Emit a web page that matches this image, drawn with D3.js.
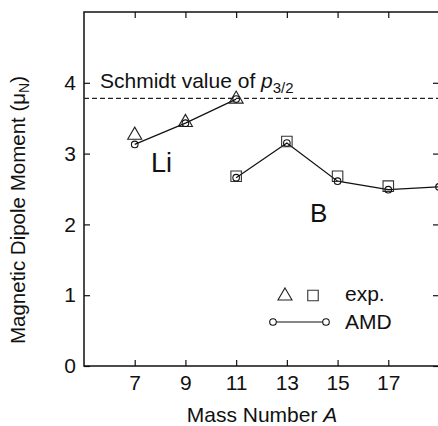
<!DOCTYPE html>
<html>
<head>
    <style>
        body { margin: 0; background: #fff; }
        svg { display: block; font-family: "Liberation Sans", Arial, sans-serif; }
        .axis text { font-size: 21px; fill: #111; }
        .axis line { stroke: #111; stroke-width: 1.2px; }
    </style>
    <script src="https://d3js.org/d3.v7.min.js"></script>
</head>
<body>
    <div id="chart"></div>
    <script>
        // data
        var xTicks = [7, 9, 11, 13, 15, 17];
        var yTicks = [0, 1, 2, 3, 4];
        var schmidt = 3.78;

        var liMass = [7, 9, 11];
        var liExp = [3.26, 3.44, 3.77];
        var liAmd = [3.13, 3.43, 3.77];

        var bMass = [11, 13, 15, 17];
        var bExp = [2.68, 3.17, 2.68, 2.54];
        var bAmdMass = [11, 13, 15, 17, 19];
        var bAmd = [2.66, 3.15, 2.61, 2.49, 2.53];

        var W = 438, H = 426;
        var plotL = 84, plotR = 439, plotT = 12, plotB = 366;

        var svg = d3.select("#chart").append("svg")
            .attr("width", W).attr("height", H);

        var x = d3.scaleLinear().domain([5, 19]).range([plotL, plotR]);
        var y = d3.scaleLinear().domain([0, 5]).range([plotB, plotT]);

        // axes, ticks pointing inward
        svg.append("g").attr("class", "axis")
            .attr("transform", "translate(0," + plotB + ")")
            .call(d3.axisBottom(x).tickValues(xTicks).tickSizeInner(-6).tickSizeOuter(0).tickPadding(9))
            .call(function(g) { g.select(".domain").remove(); });

        svg.append("g").attr("class", "axis")
            .attr("transform", "translate(0," + plotT + ")")
            .call(d3.axisTop(x).tickValues(xTicks).tickSizeInner(-6).tickSizeOuter(0).tickFormat(""))
            .call(function(g) { g.select(".domain").remove(); });

        svg.append("g").attr("class", "axis")
            .attr("transform", "translate(" + plotL + ",0)")
            .call(d3.axisLeft(y).tickValues(yTicks).tickFormat(d3.format("d"))
                .tickSizeInner(-6).tickSizeOuter(0).tickPadding(8))
            .call(function(g) { g.select(".domain").remove(); });

        svg.append("g").attr("class", "axis")
            .attr("transform", "translate(" + plotR + ",0)")
            .call(d3.axisRight(y).tickValues(yTicks).tickSizeInner(-6).tickSizeOuter(0).tickFormat(""))
            .call(function(g) { g.select(".domain").remove(); });

        svg.append("rect")
            .attr("x", plotL).attr("y", plotT)
            .attr("width", plotR - plotL).attr("height", plotB - plotT)
            .attr("fill", "none").attr("stroke", "#111").attr("stroke-width", 1.5);

        // Schmidt line
        svg.append("line")
            .attr("x1", plotL).attr("x2", plotR)
            .attr("y1", y(schmidt)).attr("y2", y(schmidt))
            .attr("stroke", "#222").attr("stroke-width", 1.2)
            .attr("stroke-dasharray", "5,3");

        var st = svg.append("text")
            .attr("x", 100).attr("y", y(schmidt) - 10.5)
            .attr("font-size", 21).attr("fill", "#111");
        st.append("tspan").text("Schmidt value of ");
        st.append("tspan").attr("font-style", "italic").text("p");
        st.append("tspan").attr("font-size", 15).attr("dy", 5).text("3/2");

        var line = d3.line()
            .x(function(d) { return x(d[0]); })
            .y(function(d) { return y(d[1]); });

        var liLine = d3.zip(liMass, liAmd);
        var bLine = d3.zip(bAmdMass, bAmd);

        [liLine, bLine].forEach(function(pts) {
            svg.append("path").attr("d", line(pts))
                .attr("fill", "none").attr("stroke", "#111").attr("stroke-width", 1.2);
        });

        var tri = d3.symbol().type(d3.symbolTriangle).size(85);
        var sq = d3.symbol().type(d3.symbolSquare).size(110);
        var circ = d3.symbol().type(d3.symbolCircle).size(34);

        svg.selectAll(".tri").data(d3.zip(liMass, liExp)).enter()
            .append("path").attr("d", tri)
            .attr("transform", function(d) { return "translate(" + x(d[0]) + "," + y(d[1]) + ")"; })
            .attr("fill", "none").attr("stroke", "#222").attr("stroke-width", 1.1);

        svg.selectAll(".sq").data(d3.zip(bMass, bExp)).enter()
            .append("path").attr("d", sq)
            .attr("transform", function(d) { return "translate(" + x(d[0]) + "," + y(d[1]) + ")"; })
            .attr("fill", "none").attr("stroke", "#333").attr("stroke-width", 1.1);

        svg.selectAll(".circ").data(liLine.concat(bLine)).enter()
            .append("path").attr("d", circ)
            .attr("transform", function(d) { return "translate(" + x(d[0]) + "," + y(d[1]) + ")"; })
            .attr("fill", "none").attr("stroke", "#111").attr("stroke-width", 1.1);

        // element labels
        svg.append("text").attr("x", 151).attr("y", 172)
            .attr("font-size", 27).attr("fill", "#111").text("Li");
        svg.append("text").attr("x", 310).attr("y", 222)
            .attr("font-size", 26).attr("fill", "#111").text("B");

        // legend
        svg.append("path").attr("d", tri).attr("transform", "translate(285,296)")
            .attr("fill", "none").attr("stroke", "#222").attr("stroke-width", 1.1);
        svg.append("path").attr("d", sq).attr("transform", "translate(313,295.5)")
            .attr("fill", "none").attr("stroke", "#333").attr("stroke-width", 1.1);
        svg.append("text").attr("x", 345).attr("y", 301)
            .attr("font-size", 21).attr("fill", "#111").text("exp.");
        svg.append("line").attr("x1", 273).attr("x2", 326).attr("y1", 322).attr("y2", 322)
            .attr("stroke", "#111").attr("stroke-width", 1.2);
        [273, 326].forEach(function(cx) {
            svg.append("path").attr("d", circ).attr("transform", "translate(" + cx + ",322)")
                .attr("fill", "#fff").attr("stroke", "#111").attr("stroke-width", 1.1);
        });
        svg.append("text").attr("x", 345).attr("y", 329)
            .attr("font-size", 21).attr("fill", "#111").text("AMD");

        // axis titles
        var xt = svg.append("text").attr("x", 262).attr("y", 422)
            .attr("text-anchor", "middle").attr("font-size", 21).attr("fill", "#111");
        xt.append("tspan").text("Mass Number ");
        xt.append("tspan").attr("font-style", "italic").text("A");

        var yt = svg.append("text")
            .attr("transform", "translate(25,210) rotate(-90)")
            .attr("text-anchor", "middle").attr("font-size", 20.5).attr("fill", "#111");
        yt.append("tspan").text("Magnetic Dipole Moment (\u03bc");
        yt.append("tspan").attr("font-size", 14).attr("dy", 4).text("N");
        yt.append("tspan").attr("dy", -4).text(")");
    </script>
</body>
</html>
